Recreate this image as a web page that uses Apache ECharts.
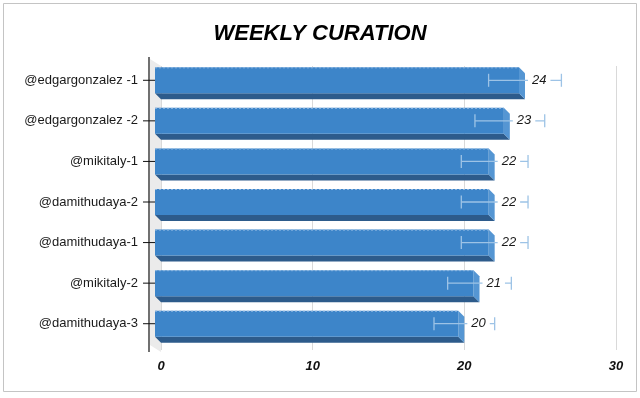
<!DOCTYPE html>
<html>
<head>
<meta charset="utf-8">
<script src="https://cdn.jsdelivr.net/npm/echarts@6/dist/echarts.min.js"></script>
<style>
  html, body { margin: 0; padding: 0; background: #fff; }
  #chart { width: 640px; height: 398px; }
</style>
</head>
<body>
<div id="chart"></div>
<script>
// chart data
const categories = ['@edgargonzalez -1', '@edgargonzalez -2', '@mikitaly-1', '@damithudaya-2', '@damithudaya-1', '@mikitaly-2', '@damithudaya-3']
const values = [24, 23, 22, 22, 22, 21, 20]
const errors = [2.4, 2.3, 2.2, 2.2, 2.2, 2.1, 2.0]
const xMin = 0
const xMax = 30
const xStep = 10

const DEPTH = 6 // 3D offset of the front face, px
const FONT = '"Liberation Sans", Arial, sans-serif'

const chart = echarts.init(document.getElementById('chart'))

// bar with front, bottom and side faces, plus error bar, tick, category and value label
const renderBar = (params, api) => {
  const idx = api.value(0)
  const val = api.value(1)
  const err = api.value(2)
  const start = api.coord([0, idx])
  const end = api.coord([val, idx])
  const band = api.size([0, 1])[1]
  const h = band * 0.64
  const x0 = start[0], x1 = end[0], yc = end[1]
  const fx0 = x0 - DEPTH, fx1 = x1 - DEPTH
  const fy0 = yc - DEPTH - h / 2, fy1 = yc - DEPTH + h / 2
  const fyc = yc - DEPTH
  const lo = api.coord([val - err, idx])[0]
  const hi = api.coord([val + err, idx])[0]
  return {
    type: 'group',
    children: [
      { type: 'polygon', shape: { points: [[fx0, fy1], [fx1, fy1], [x1, fy1 + DEPTH], [x0, fy1 + DEPTH]] },
        style: { fill: '#2d5b8b' } },
      { type: 'polygon', shape: { points: [[fx1, fy0], [x1, fy0 + DEPTH], [x1, fy1 + DEPTH], [fx1, fy1]] },
        style: { fill: '#5596d3' } },
      { type: 'rect', shape: { x: fx0, y: fy0, width: fx1 - fx0, height: fy1 - fy0 },
        style: { fill: '#3d85c9' } },
      { type: 'line', shape: { x1: fx0, y1: fy0 + 0.5, x2: fx1, y2: fy0 + 0.5 },
        style: { stroke: '#8fb8e2', lineWidth: 1, lineDash: [2, 2] } },
      // tick across the axis line
      { type: 'line', shape: { x1: x0 - 18, y1: fyc, x2: x0 - 6, y2: fyc },
        style: { stroke: '#111', lineWidth: 1 } },
      // category label
      { type: 'text', x: x0 - 23, y: fyc,
        style: { text: categories[idx], fill: '#1a1a1a', font: '13px ' + FONT,
          align: 'right', verticalAlign: 'middle' } },
      // error bar
      { type: 'line', shape: { x1: lo, y1: fyc, x2: hi, y2: fyc }, style: { stroke: '#9dc3e6', lineWidth: 1.3 } },
      { type: 'line', shape: { x1: lo, y1: fyc - 6.5, x2: lo, y2: fyc + 6.5 }, style: { stroke: '#9dc3e6', lineWidth: 1.3 } },
      { type: 'line', shape: { x1: hi, y1: fyc - 6.5, x2: hi, y2: fyc + 6.5 }, style: { stroke: '#9dc3e6', lineWidth: 1.3 } },
      { type: 'text', x: x1 + 3, y: fyc,
        style: { text: String(val), fill: '#1a1a1a', font: 'italic 13px ' + FONT,
          align: 'left', verticalAlign: 'middle', backgroundColor: '#fff', padding: [1, 4] } }
    ]
  }
}

// side wall and the vertical axis line in front of it
const renderWall = (params, api) => {
  const cs = params.coordSys
  const x0 = cs.x, top = cs.y, bottom = cs.y + cs.height
  return {
    type: 'group',
    children: [
      { type: 'polygon', shape: { points: [[x0 - 11, top - 7], [x0, top], [x0, bottom + 2], [x0 - 11, bottom - 5]] },
        style: { fill: '#ebebeb' } },
      { type: 'line', shape: { x1: x0 - 12, y1: top - 9, x2: x0 - 12, y2: bottom + 2 },
        style: { stroke: '#111', lineWidth: 1.2 } }
    ]
  }
}

chart.setOption({
  animation: false,
  backgroundColor: '#fff',
  title: {
    text: 'WEEKLY CURATION',
    left: 'center',
    top: 18,
    textStyle: { fontSize: 22, fontWeight: 'bold', fontStyle: 'italic', color: '#000', fontFamily: FONT }
  },
  graphic: [{
    type: 'rect',
    shape: { x: 3.5, y: 3.5, width: 633, height: 388 },
    style: { fill: 'none', stroke: '#c4c4c4', lineWidth: 1 },
    z: -1
  }],
  grid: { left: 161, right: 24, top: 66, bottom: 48 },
  xAxis: {
    type: 'value',
    min: xMin,
    max: xMax,
    interval: xStep,
    axisLine: { show: false },
    axisTick: { show: false },
    splitLine: { lineStyle: { color: '#d9d9d9', width: 1 } },
    axisLabel: { margin: 10, fontSize: 13, fontWeight: 'bold', fontStyle: 'italic', color: '#111', fontFamily: FONT }
  },
  yAxis: {
    type: 'category',
    data: categories,
    inverse: true,
    axisLine: { show: false },
    axisTick: { show: false },
    axisLabel: { show: false }
  },
  series: [
    {
      type: 'custom',
      renderItem: renderWall,
      data: [[0, 0]],
      z: 1,
      silent: true
    },
    {
      type: 'custom',
      renderItem: renderBar,
      encode: { x: 1, y: 0 },
      data: categories.map((c, i) => [i, values[i], errors[i]]),
      z: 2,
      silent: true
    }
  ]
})
</script>
</body>
</html>
